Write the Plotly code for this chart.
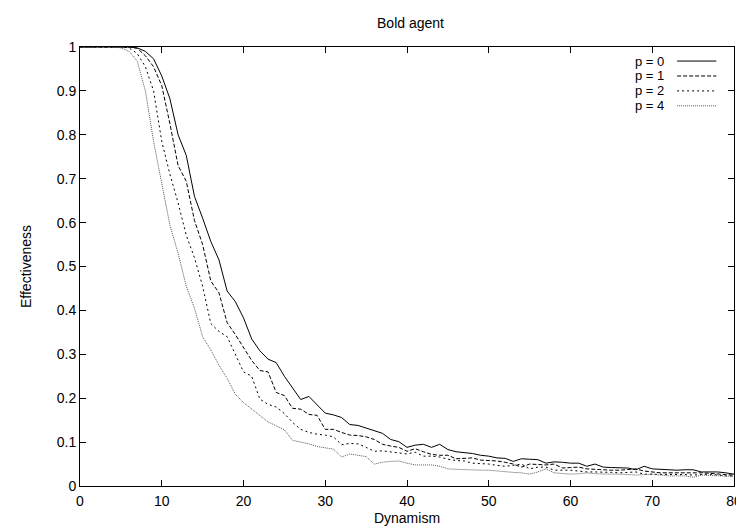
import plotly.graph_objects as go

# Dynamism values (x) and effectiveness per p
dynamism = list(range(0, 81))

p0 = [1.0, 1.0, 1.0, 1.0, 1.0, 1.0, 1.0, 0.998, 0.99, 0.973,
      0.934, 0.882, 0.80, 0.753, 0.66, 0.61, 0.557, 0.515, 0.444, 0.42,
      0.383, 0.335, 0.308, 0.289, 0.281, 0.25, 0.222, 0.197, 0.204, 0.184,
      0.166, 0.162, 0.156, 0.14, 0.138, 0.132, 0.126, 0.12, 0.106, 0.101,
      0.088, 0.093, 0.095, 0.088, 0.095, 0.083, 0.078, 0.076, 0.074, 0.07,
      0.068, 0.064, 0.063, 0.056, 0.062, 0.061, 0.06, 0.052, 0.055, 0.054,
      0.052, 0.052, 0.045, 0.05, 0.043, 0.042, 0.042, 0.041, 0.037, 0.045,
      0.039, 0.038, 0.036, 0.036, 0.037, 0.037, 0.032, 0.032, 0.032, 0.03,
      0.027]

p1 = [1.0, 1.0, 1.0, 1.0, 1.0, 1.0, 1.0, 0.997, 0.98, 0.955,
      0.912, 0.825, 0.73, 0.694, 0.605, 0.55, 0.467, 0.44, 0.372, 0.345,
      0.315, 0.286, 0.263, 0.26, 0.213, 0.206, 0.177, 0.175, 0.163, 0.161,
      0.129, 0.129, 0.122, 0.116, 0.115, 0.112, 0.106, 0.095, 0.091, 0.088,
      0.079, 0.085, 0.078, 0.072, 0.07, 0.07, 0.062, 0.063, 0.064, 0.059,
      0.058, 0.057, 0.054, 0.05, 0.043, 0.05, 0.049, 0.048, 0.05, 0.041,
      0.042, 0.043, 0.039, 0.038, 0.036, 0.036, 0.036, 0.037, 0.039, 0.034,
      0.032, 0.03, 0.03, 0.03, 0.031, 0.03, 0.03, 0.029, 0.027, 0.026,
      0.025]

p2 = [1.0, 1.0, 1.0, 1.0, 1.0, 1.0, 0.998, 0.985, 0.955, 0.90,
      0.785, 0.71, 0.645, 0.571, 0.52, 0.455, 0.37, 0.352, 0.34, 0.298,
      0.26, 0.25, 0.198, 0.186, 0.18, 0.165, 0.145, 0.129, 0.122, 0.118,
      0.116, 0.112, 0.094, 0.097, 0.096, 0.088, 0.079, 0.08, 0.078, 0.075,
      0.073, 0.077, 0.068, 0.068, 0.066, 0.061, 0.058, 0.057, 0.052, 0.051,
      0.05, 0.047, 0.045, 0.047, 0.05, 0.039, 0.043, 0.043, 0.036, 0.036,
      0.036, 0.034, 0.032, 0.032, 0.032, 0.031, 0.03, 0.031, 0.032, 0.027,
      0.027, 0.027, 0.027, 0.027, 0.026, 0.025, 0.026, 0.027, 0.025, 0.023,
      0.023]

p4 = [1.0, 1.0, 1.0, 1.0, 1.0, 0.998, 0.99, 0.968, 0.90, 0.785,
      0.69, 0.594, 0.53, 0.455, 0.405, 0.34, 0.31, 0.275, 0.245, 0.209,
      0.19, 0.175, 0.16, 0.146, 0.137, 0.128, 0.104, 0.1, 0.096, 0.09,
      0.087, 0.084, 0.066, 0.073, 0.07, 0.067, 0.05, 0.054, 0.056, 0.057,
      0.052, 0.048, 0.048, 0.048, 0.045, 0.039, 0.038, 0.037, 0.036, 0.036,
      0.036, 0.034, 0.032, 0.031, 0.03, 0.027, 0.032, 0.039, 0.03, 0.028,
      0.027, 0.028, 0.03, 0.028, 0.027, 0.027, 0.027, 0.026, 0.025, 0.026,
      0.027, 0.025, 0.023, 0.023, 0.023, 0.02, 0.025, 0.024, 0.023, 0.022,
      0.022]

labels = ['p = 0', 'p = 1', 'p = 2', 'p = 4']
x_ticks = [0, 10, 20, 30, 40, 50, 60, 70, 80]
y_ticks = [0, 0.1, 0.2, 0.3, 0.4, 0.5, 0.6, 0.7, 0.8, 0.9, 1]

styles = [
    dict(color='black', width=1, dash='solid'),
    dict(color='black', width=1, dash='4px,2px'),
    dict(color='black', width=1, dash='2px,3px'),
    dict(color='#555555', width=1, dash='1px,1px'),
]

FONT = 'Liberation Sans, Arial, sans-serif'
FS = 14

fig = go.Figure()
for ys, name, st in zip([p0, p1, p2, p4], labels, styles):
    fig.add_trace(go.Scatter(x=dynamism, y=ys, mode='lines', name=name,
                             line=st, showlegend=False))

# gnuplot-style key: text on the left, line sample on the right
row_y = [0.968, 0.934, 0.900, 0.866]
for name, st, yy in zip(labels, styles, row_y):
    fig.add_annotation(x=0.896, y=yy, xref='paper', yref='paper', text=name,
                       showarrow=False, xanchor='right', yanchor='middle',
                       font=dict(size=13, color='black', family=FONT))
    fig.add_shape(type='line', xref='paper', yref='paper',
                  x0=0.913, x1=0.973, y0=yy, y1=yy, line=st)

axis_common = dict(showgrid=False, zeroline=False, showline=True, linecolor='black',
                   linewidth=1, mirror='ticks', ticks='inside', ticklen=6,
                   tickcolor='black', ticklabeloverflow='allow',
                   tickfont=dict(size=FS, color='black', family=FONT))

fig.update_xaxes(range=[0, 80], tickvals=x_ticks, ticktext=[str(v) for v in x_ticks],
                 ticklabelstandoff=2,
                 title=dict(text='Dynamism', standoff=5,
                            font=dict(size=FS, color='black', family=FONT)),
                 **axis_common)
fig.update_yaxes(range=[0, 1], tickvals=y_ticks, ticktext=[f'{v:g}' for v in y_ticks],
                 title=dict(text='Effectiveness', standoff=21,
                            font=dict(size=FS, color='black', family=FONT)),
                 **axis_common)

fig.update_layout(
    width=744, height=526,
    margin=dict(l=72, r=10, t=39, b=47),
    paper_bgcolor='white', plot_bgcolor='white',
    title=dict(text='Bold agent', x=0.541, xanchor='center', y=0.972, yanchor='middle',
               font=dict(size=FS, color='black', family=FONT)),
    font=dict(family=FONT, color='black'),
)

fig.write_html("out.html")
